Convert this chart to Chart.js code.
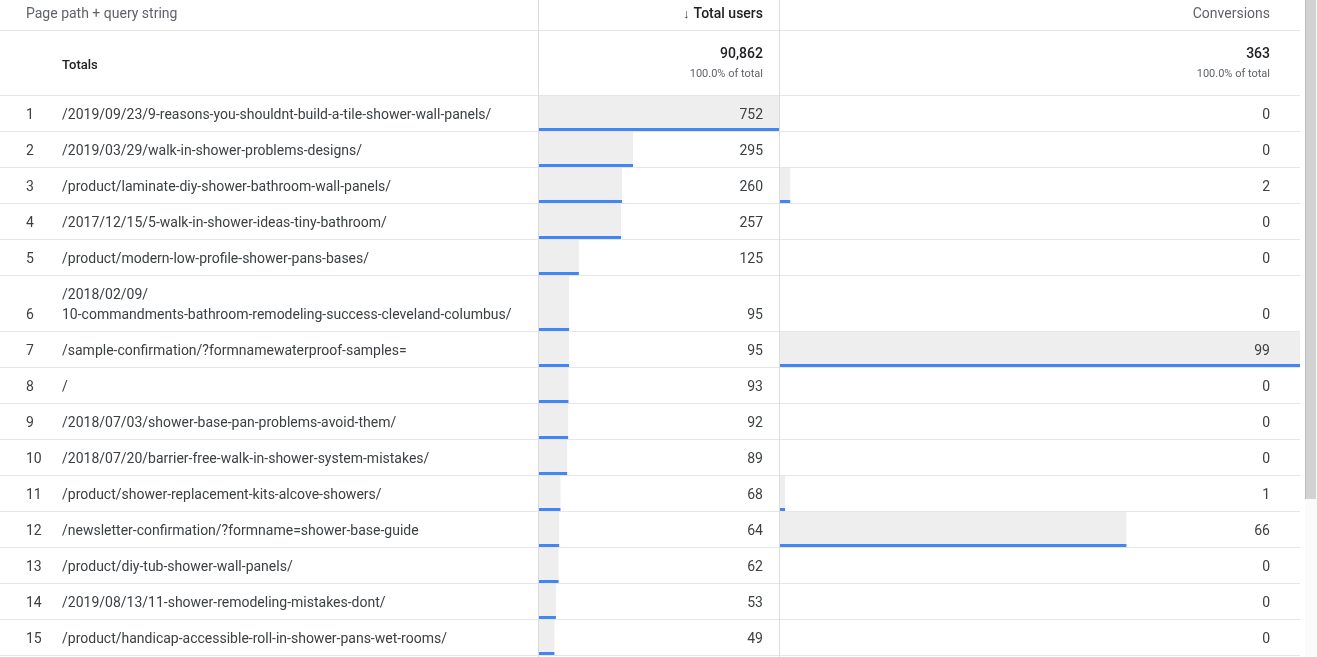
<!DOCTYPE html>
<html>
<head>
<meta charset="utf-8">
<script src="https://cdn.jsdelivr.net/npm/chart.js@4.4.1/dist/chart.umd.min.js"></script>
<style>
  html, body { margin: 0; padding: 0; background: #fff; }
  #page { position: relative; width: 1317px; height: 657px; overflow: hidden;
          font-family: Roboto, "Noto Sans", Arial, sans-serif; color: #3c4043; }
  .vline { position: absolute; top: 0; width: 1px; height: 657px; background: #dadce0; z-index: 2; }
  canvas.col { position: absolute; z-index: 0; }
  #table { position: absolute; left: 0; top: 0; width: 1300px; z-index: 1; }
  .row { position: relative; border-bottom: 1px solid #e6e6e6; }
  .hdr { height: 30px; font-size: 14px; line-height: 20px; }
  .hdr .h { position: absolute; top: 3px; white-space: nowrap; color: #5f6368; }
  .hdr .h.sorted { color: #202124; font-weight: 500; }
  .hdr .arrow { font-size: 13px; font-weight: 300; margin-right: 4px; color: #3c4043; }
  .tot { height: 64px; }
  .tot .lbl { position: absolute; left: 62px; top: 24px; font-size: 13px; line-height: 20px; font-weight: 500; color: #202124; }
  .tot .val { position: absolute; top: 12px; font-size: 14px; line-height: 20px; font-weight: 500; color: #202124; white-space: nowrap; }
  .tot .sub { position: absolute; top: 35px; font-size: 11px; line-height: 16px; color: #5f6368; white-space: nowrap; }
  .data { padding: 8px 0 7px 0; font-size: 14px; line-height: 20px; }
  .data .path { margin-left: 62px; width: 460px; white-space: nowrap; }
  .data .num { position: absolute; left: 26px; bottom: 7px; }
  .data .v { position: absolute; bottom: 7px; white-space: nowrap; }
  #track { position: absolute; left: 1305px; top: 0; width: 12px; height: 657px; background: #fafafa; }
  #thumb { position: absolute; left: 1305px; top: 0; width: 10px; height: 499px; background: #d2d2d2; border-left: 1px solid #bdbdbd; }
</style>
</head>
<body>
<div id="page">
  <div id="track"></div>
  <div id="thumb"></div>
  <canvas id="usersCanvas" class="col"></canvas>
  <canvas id="convCanvas" class="col"></canvas>
  <div class="vline" style="left:538px"></div>
  <div class="vline" style="left:779px"></div>
  <div id="table"></div>
</div>
<script>
// ---------- data ----------
const columnHeaders = ['Page path + query string', 'Total users', 'Conversions'];
const totalsLabel = 'Totals';
const pagePaths = [
  '/2019/09/23/9-reasons-you-shouldnt-build-a-tile-shower-wall-panels/',
  '/2019/03/29/walk-in-shower-problems-designs/',
  '/product/laminate-diy-shower-bathroom-wall-panels/',
  '/2017/12/15/5-walk-in-shower-ideas-tiny-bathroom/',
  '/product/modern-low-profile-shower-pans-bases/',
  '/2018/02/09/10-commandments-bathroom-remodeling-success-cleveland-columbus/',
  '/sample-confirmation/?formnamewaterproof-samples=',
  '/',
  '/2018/07/03/shower-base-pan-problems-avoid-them/',
  '/2018/07/20/barrier-free-walk-in-shower-system-mistakes/',
  '/product/shower-replacement-kits-alcove-showers/',
  '/newsletter-confirmation/?formname=shower-base-guide',
  '/product/diy-tub-shower-wall-panels/',
  '/2019/08/13/11-shower-remodeling-mistakes-dont/',
  '/product/handicap-accessible-roll-in-shower-pans-wet-rooms/'
];
const totalUsers  = [752, 295, 260, 257, 125, 95, 95, 93, 92, 89, 68, 64, 62, 53, 49];
const conversions = [0, 0, 2, 0, 0, 0, 99, 0, 0, 0, 1, 66, 0, 0, 0];
const totalUsersSum = 90862;
const conversionsSum = 363;
const shareOfTotal = ['100.0% of total', '100.0% of total'];

// ---------- layout helpers ----------
const PAGE_W = 1300;
const USERS_LEFT = 539, USERS_RIGHT = 779;
const CONV_LEFT = 780, CONV_RIGHT = 1300;
const USERS_TEXT_RIGHT = 763, CONV_TEXT_RIGHT = 1270;
const PATH_MAX_W = 460;
const fmt = n => n.toLocaleString('en-US');

const measureCtx = document.createElement('canvas').getContext('2d');
measureCtx.font = '14px Roboto';
function wrapPath(text) {
  if (measureCtx.measureText(text).width <= PATH_MAX_W) return [text];
  const lines = [];
  let rest = text;
  while (measureCtx.measureText(rest).width > PATH_MAX_W) {
    let cut = -1;
    for (let i = 0; i < rest.length - 1; i++) {
      if (rest[i] === '/' && measureCtx.measureText(rest.slice(0, i + 1)).width <= PATH_MAX_W) cut = i + 1;
    }
    if (cut <= 0) break;
    lines.push(rest.slice(0, cut));
    rest = rest.slice(cut);
  }
  lines.push(rest);
  return lines;
}
function mk(tag, cls, text) {
  const e = document.createElement(tag);
  if (cls) e.className = cls;
  if (text !== undefined) e.textContent = text;
  return e;
}

// ---------- table ----------
const table = document.getElementById('table');

const hdr = mk('div', 'row hdr');
const h0 = mk('div', 'h', columnHeaders[0]); h0.style.left = '26px';
const h1 = mk('div', 'h sorted'); h1.style.right = (PAGE_W - USERS_TEXT_RIGHT) + 'px';
h1.appendChild(mk('span', 'arrow', '↓'));
h1.appendChild(document.createTextNode(columnHeaders[1]));
const h2 = mk('div', 'h', columnHeaders[2]); h2.style.right = (PAGE_W - CONV_TEXT_RIGHT) + 'px';
hdr.append(h0, h1, h2);
table.appendChild(hdr);

const tot = mk('div', 'row tot');
tot.appendChild(mk('div', 'lbl', totalsLabel));
[[totalUsersSum, USERS_TEXT_RIGHT, shareOfTotal[0]], [conversionsSum, CONV_TEXT_RIGHT, shareOfTotal[1]]].forEach(([sum, right, share]) => {
  const v = mk('div', 'val', fmt(sum)); v.style.right = (PAGE_W - right) + 'px';
  const s = mk('div', 'sub', share); s.style.right = (PAGE_W - right) + 'px';
  tot.append(v, s);
});
table.appendChild(tot);

const rowEls = pagePaths.map((p, i) => {
  const r = mk('div', 'row data');
  r.appendChild(mk('div', 'num', String(i + 1)));
  const pathEl = mk('div', 'path');
  wrapPath(p).forEach((line, k) => {
    if (k) pathEl.appendChild(document.createElement('br'));
    pathEl.appendChild(document.createTextNode(line));
  });
  r.appendChild(pathEl);
  const u = mk('div', 'v', fmt(totalUsers[i])); u.style.right = (PAGE_W - USERS_TEXT_RIGHT) + 'px';
  const c = mk('div', 'v', fmt(conversions[i])); c.style.right = (PAGE_W - CONV_TEXT_RIGHT) + 'px';
  r.append(u, c);
  table.appendChild(r);
  return r;
});

// ---------- in-cell bars drawn by Chart.js ----------
const bodyTop = rowEls[0].offsetTop;
const bodyHeight = 657 - bodyTop;
const rowBoxes = rowEls.map(r => ({ top: r.offsetTop - bodyTop, h: r.clientHeight }));

function columnChart(canvasId, values, left, right) {
  const cv = document.getElementById(canvasId);
  cv.width = right - left; cv.height = bodyHeight;
  cv.style.left = left + 'px'; cv.style.top = bodyTop + 'px';
  cv.style.width = (right - left) + 'px'; cv.style.height = bodyHeight + 'px';
  const heights = [...new Set(rowBoxes.map(b => b.h))];
  const datasets = heights.map(h => ({
    data: values
      .map((v, i) => ({ x: v, y: rowBoxes[i].top + rowBoxes[i].h / 2, h: rowBoxes[i].h }))
      .filter(d => d.h === h),
    barThickness: h,
    grouped: false,
    backgroundColor: '#eeeeee',
    borderColor: '#4285f4',
    borderWidth: { top: 0, right: 0, bottom: 3, left: 0 },
    borderSkipped: false,
    inflateAmount: 0
  }));
  return new Chart(cv, {
    type: 'bar',
    data: { datasets },
    options: {
      indexAxis: 'y',
      responsive: false,
      animation: false,
      events: [],
      layout: { padding: 0 },
      plugins: { legend: { display: false }, tooltip: { enabled: false } },
      scales: {
        x: { type: 'linear', min: 0, max: Math.max(...values), offset: false, display: false },
        y: { type: 'linear', reverse: true, min: 0, max: bodyHeight, offset: false,
             grid: { offset: false }, display: false }
      }
    }
  });
}
columnChart('usersCanvas', totalUsers, USERS_LEFT, USERS_RIGHT);
columnChart('convCanvas', conversions, CONV_LEFT, CONV_RIGHT);
</script>
</body>
</html>
